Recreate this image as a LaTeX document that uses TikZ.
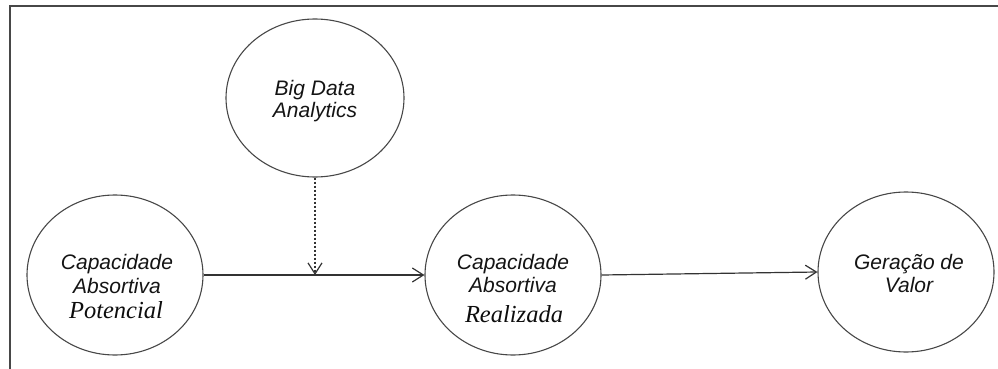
\documentclass[tikz,border=0pt]{standalone}
\usepackage{fontspec}
\setmainfont{Liberation Sans}
\newfontfamily\serifit{Liberation Serif}
\usetikzlibrary{shapes.geometric,arrows.meta}
\begin{document}
\begin{tikzpicture}[x=1pt,y=-1pt,
  bubble/.style={draw=black!72, line width=1.1pt, ellipse, minimum width=176pt, minimum height=160pt, inner sep=0pt},
  lbl/.style={anchor=base, inner sep=0pt, text=black!92, font=\fontsize{21}{25}\selectfont\itshape},
  slbl/.style={anchor=base, inner sep=0pt, text=black!95, font=\serifit\fontsize{24.5}{28}\selectfont\itshape},
  conn/.style={draw=black!80, line width=1.2pt, -{Straight Barb[length=11pt,width=14pt,line width=1.2pt]}},
  frameline/.style={draw=black!72, line width=1.6pt}
]
\useasboundingbox (0,0) rectangle (998,369);
\draw[frameline] (10,369) -- (10,6) -- (998,6);

% ellipses
\node[bubble, minimum height=158pt, minimum width=178pt] (bda) at (315,98) {};
\node[bubble] (pot) at (115,275) {};
\node[bubble] (real) at (513,275) {};
\node[bubble] (ger) at (906,272) {};

% labels
\node[lbl] (bda1) at (315,95) {Big Data};
\node[lbl] (bda2) at (315,117) {Analytics};

\node[lbl] (pot1) at (117,269) {Capacidade};
\node[lbl] (pot2) at (117,293) {Absortiva};
\node[slbl] (pot3) at (116,318) {Potencial};

\node[lbl] (real1) at (513,269) {Capacidade};
\node[lbl] (real2) at (513,292) {Absortiva};
\node[slbl] (real3) at (514,322) {Realizada};

\node[lbl] (ger1) at (909,269) {Geração de};
\node[lbl] (ger2) at (909,292) {Valor};

% connectors
\coordinate (join) at (315,275);
\draw[conn] (pot.east) -- (real.west);
\draw[conn] (real.east) -- (ger.west);
\draw[conn, dash pattern=on 2.5pt off 1.5pt] (bda.south) -- (join);
\end{tikzpicture}
\end{document}
